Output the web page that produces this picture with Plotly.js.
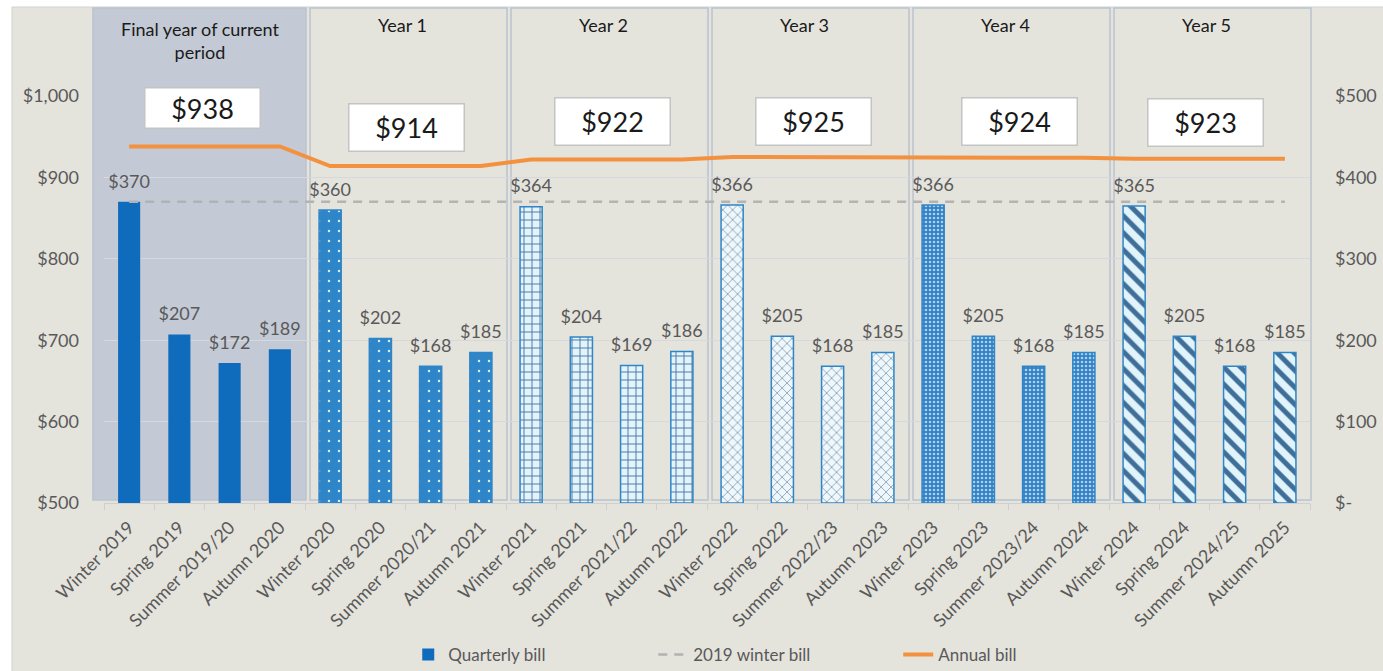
<!DOCTYPE html>
<html>
<head>
<meta charset="utf-8">
<script src="https://cdn.plot.ly/plotly-3.0.1.min.js"></script>
<style>html,body{margin:0;padding:0;background:#fff;}#chart{width:1383px;height:671px;}</style>
</head>
<body>
<div id="chart"></div>
<script>
// ---- data ----
const quarters = [
  "Winter 2019","Spring 2019","Summer 2019/20","Autumn 2020",
  "Winter 2020","Spring 2020","Summer 2020/21","Autumn 2021",
  "Winter 2021","Spring 2021","Summer 2021/22","Autumn 2022",
  "Winter 2022","Spring 2022","Summer 2022/23","Autumn 2023",
  "Winter 2023","Spring 2023","Summer 2023/24","Autumn 2024",
  "Winter 2024","Spring 2024","Summer 2024/25","Autumn 2025"
];
const quarterlyBill = [370,207,172,189, 360,202,168,185, 364,204,169,186, 366,205,168,185, 366,205,168,185, 365,205,168,185];
const annualBillLine = [938,938,938,938, 914,914,914,914, 922,922,922,922, 925,925,925,925, 924,924,924,924, 923,923,923,923];
const yearLabels = ["Final year of current<br>period","Year 1","Year 2","Year 3","Year 4","Year 5"];
const annualBill = [938,914,922,925,924,923];
const winterBill2019 = 370;
const leftTicks = [500,600,700,800,900,1000];
const leftTickText = ["$500","$600","$700","$800","$900","$1,000"];
const rightTicks = [0,100,200,300,400,500];
const rightTickText = ["$-","$100","$200","$300","$400","$500"];

// ---- styles per year group ----
const grpColor = ['#0f6cbd','#2e86c8','#e1f4fb','#eef8fc','#3380c3','#e1f4fb'];
const grpShape = ['',       '.',      '+',      'x',      '.',      '\\'];
const grpFg    = ['#0f6cbd','#d9eefb','#4a74a0','#7a91a8','#a8d0f2','#3f6e98'];
const grpSize  = [8, 10, 8, 7, 4, 12];
const grpSolid = [0.3, 0.05, 0.22, 0.2, 0.35, 0.42];
const grpLineW = [0, 1.5, 1.5, 1.5, 1.5, 1.5];

const GREY = '#595959';
const FONT = 'Lato, "Open Sans", sans-serif';

const traces = [];
for (let k = 0; k < 6; k++) {
  const xs = quarters.slice(4 * k, 4 * k + 4);
  const ys = quarterlyBill.slice(4 * k, 4 * k + 4);
  traces.push({
    type: 'bar', name: 'Quarterly bill', legendgroup: 'q', showlegend: k === 0,
    x: xs, y: ys, yaxis: 'y2', width: 0.44,
    marker: {
      color: grpColor[k],
      line: { color: '#2e86c8', width: grpLineW[k] },
      pattern: {
        shape: grpShape[k], fgcolor: grpFg[k], bgcolor: grpColor[k],
        size: grpSize[k], solidity: grpSolid[k], fillmode: 'replace'
      }
    },
    hoverinfo: 'x+y'
  });
}
// data labels above the bars
traces.push({
  type: 'scatter', mode: 'markers+text', showlegend: false, yaxis: 'y2',
  x: quarters, y: quarterlyBill, text: quarterlyBill.map(v => '$' + v),
  textposition: 'top center', cliponaxis: false,
  marker: { size: 14, color: 'rgba(0,0,0,0)' },
  textfont: { color: GREY, size: 18, family: FONT }, hoverinfo: 'skip'
});
traces.push({
  type: 'scatter', mode: 'lines', name: '2019 winter bill', yaxis: 'y2',
  x: [quarters[0], quarters[quarters.length - 1]], y: [winterBill2019, winterBill2019],
  line: { color: '#b3b3b3', width: 2.5, dash: '9px,7px' }
});
traces.push({
  type: 'scatter', mode: 'lines', name: 'Annual bill', yaxis: 'y',
  x: quarters, y: annualBillLine,
  line: { color: '#f4913f', width: 4 }
});

// ---- decorations ----
const N = quarters.length;
const px = idx => (idx + 0.5) / N; // category position -> paper x
const shapes = [
  { type: 'rect', xref: 'paper', yref: 'paper', x0: -0.0763, x1: 1.07, y0: -0.42, y1: 1.2187,
    fillcolor: '#e4e3dc', line: { color: '#d2d2d2', width: 1 }, layer: 'below' }
];
for (let k = 0; k < 6; k++) {
  shapes.push({
    type: 'rect', xref: 'paper', yref: 'paper', layer: 'below',
    x0: k === 0 ? px(-0.72) : px(4 * k - 0.5 + 0.1), x1: px(4 * k + 3.5 + 0.02),
    y0: 0.0074, y1: 1.2165,
    fillcolor: k === 0 ? '#c3cad5' : 'rgba(0,0,0,0)',
    line: { color: '#bac3cf', width: 1.5 }
  });
}

const boxPos = [[1.47, 985, 41], [5.52, 961, 48], [9.62, 969, 48], [13.62, 969, 48], [17.71, 969, 48], [21.43, 967, 48]];
const annotations = [];
yearLabels.forEach((t, k) => {
  annotations.push({
    text: t, xref: 'paper', yref: 'paper', x: px(4 * k + 1.5 - (k === 0 ? 0.08 : 0.05)),
    xanchor: 'center', y: k === 0 ? 1.137 : 1.174, yanchor: 'middle', showarrow: false,
    font: { family: FONT, size: 18, color: '#1a1a1a' }, align: 'center'
  });
});
annualBill.forEach((v, k) => {
  annotations.push({
    text: '$' + v, xref: 'paper', yref: 'y', x: px(boxPos[k][0]), y: boxPos[k][1],
    xanchor: 'center', yanchor: 'middle',
    showarrow: false, bgcolor: '#ffffff', bordercolor: '#c4c4c4', borderwidth: 1.5,
    width: 112, height: boxPos[k][2] - 4, valign: 'middle',
    font: { family: FONT, size: 27, color: '#1a1a1a' }
  });
});

const layout = {
  width: 1383, height: 671,
  margin: { l: 104, r: 73, t: 96, b: 168, autoexpand: false },
  paper_bgcolor: '#ffffff', plot_bgcolor: 'rgba(0,0,0,0)',
  font: { family: FONT, color: GREY, size: 17 },
  barmode: 'overlay',
  showlegend: true,
  legend: {
    orientation: 'h', xref: 'paper', x: 0.557, xanchor: 'center',
    yref: 'container', y: 0.024, yanchor: 'middle',
    font: { family: FONT, size: 17, color: GREY }, bgcolor: 'rgba(0,0,0,0)',
    entrywidth: 200, traceorder: 'normal'
  },
  xaxis: {
    type: 'category', categoryorder: 'array', categoryarray: quarters, range: [-0.5, 23.5], tickangle: -45,
    tickson: 'boundaries', ticks: 'outside', ticklen: 6, tickcolor: '#cfcfcf',
    showline: true, linecolor: '#cfcfcf', linewidth: 1, showgrid: false, ticklabelstandoff: 6,
    tickfont: { family: FONT, size: 18, color: GREY }, automargin: false
  },
  yaxis: {
    range: [500, 1000], tickvals: leftTicks, ticktext: leftTickText,
    showgrid: true, gridcolor: '#d6d8dd', gridwidth: 1, zeroline: false,
    showline: false, ticks: '', ticklabelstandoff: 24,
    tickfont: { family: FONT, size: 18, color: GREY }, automargin: false
  },
  yaxis2: {
    range: [0, 500], overlaying: 'y', side: 'right', tickvals: rightTicks, ticktext: rightTickText,
    showgrid: false, zeroline: false, showline: false, ticks: '', ticklabelstandoff: 24,
    tickfont: { family: FONT, size: 18, color: GREY }, automargin: false
  },
  shapes: shapes,
  annotations: annotations
};

Plotly.newPlot('chart', traces, layout, { displayModeBar: false, staticPlot: true });
</script>
</body>
</html>
